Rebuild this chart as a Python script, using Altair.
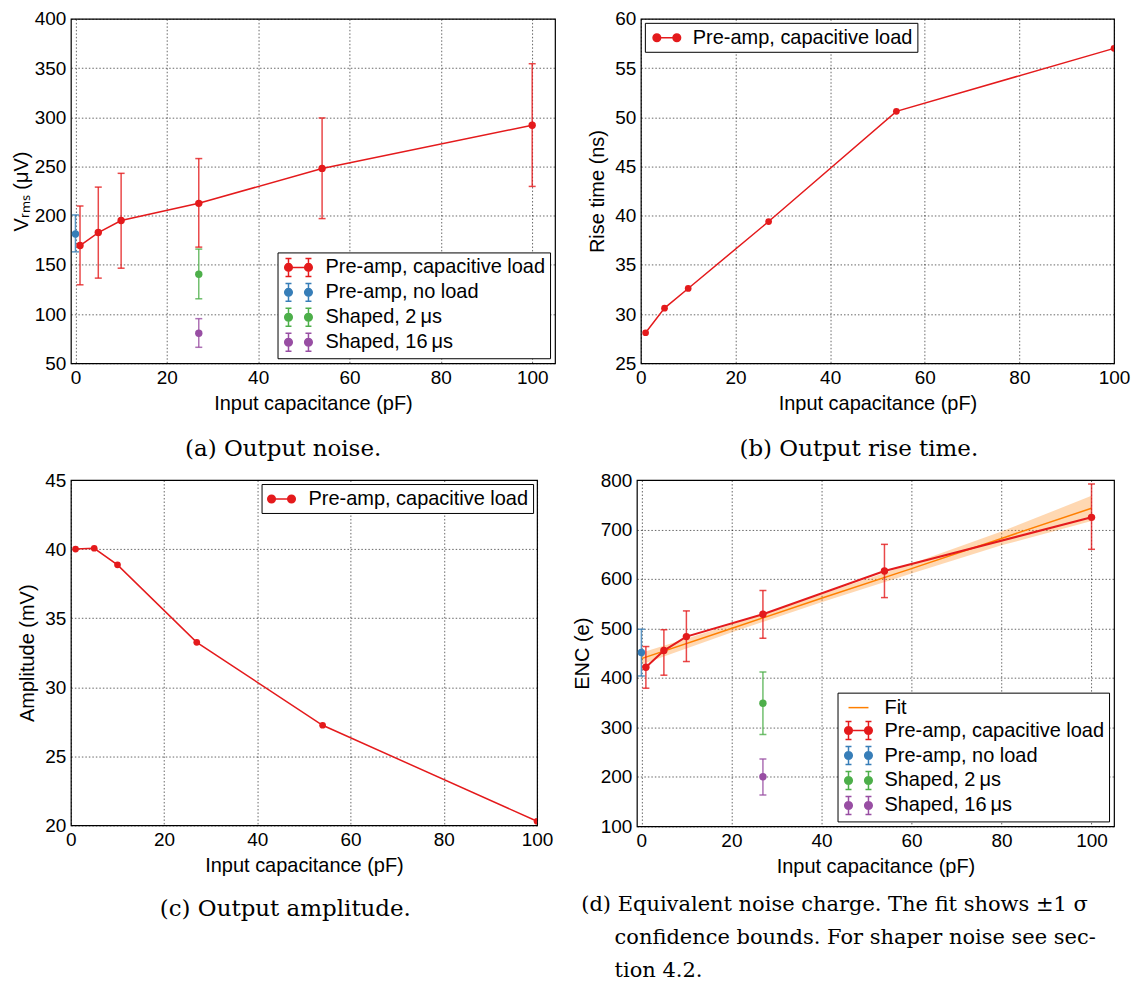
import altair as alt
import pandas as pd

FONT = "Liberation Sans"
SERIF = "DejaVu Serif"
RED, BLUE, GREEN, PURPLE, ORANGE = "#e41a1c", "#377eb8", "#4daf4a", "#984ea3", "#ff7f00"

S_FIT = "Fit"
S_CAP = "Pre-amp, capacitive load"
S_NOLOAD = "Pre-amp, no load"
S_2US = "Shaped, 2\u2009μs"
S_16US = "Shaped, 16\u2009μs"

# ---------------- data ----------------
cap_x = [1, 5, 10, 27, 54, 100]
noload_x = [0]
shaped_x = [27]

# (a) output noise (µV)
noise_cap = [169.6, 182.8, 195.0, 212.5, 248.0, 291.9]
noise_cap_lo = [129.7, 136.5, 146.6, 168.0, 197.0, 229.7]
noise_cap_hi = [209.8, 229.0, 243.0, 258.0, 299.3, 354.4]
noise_noload = [181.4]
noise_noload_lo = [163.2]
noise_noload_hi = [200.7]
noise_2us = [140.5]
noise_2us_lo = [115.5]
noise_2us_hi = [166.0]
noise_16us = [80.4]
noise_16us_lo = [66.2]
noise_16us_hi = [95.3]

# (b) rise time (ns)
rise_cap = [28.1, 30.6, 32.6, 39.4, 50.6, 57.0]

# (c) amplitude (mV)
amp_cap = [40.0, 40.06, 38.86, 33.25, 27.25, 20.3]

# (d) ENC (e)
enc_cap = [421.7, 455.4, 483.6, 528.7, 616.2, 724.6]
enc_cap_lo = [379.3, 405.6, 433.2, 480.3, 562.4, 660.0]
enc_cap_hi = [463.5, 497.5, 535.5, 576.5, 670.0, 792.0]
enc_noload = [451.3]
enc_noload_lo = [404.0]
enc_noload_hi = [498.5]
enc_2us = [349.0]
enc_2us_lo = [285.8]
enc_2us_hi = [412.0]
enc_16us = [200.3]
enc_16us_lo = [163.3]
enc_16us_hi = [236.0]
fit_x = [0, 20, 40, 60, 80, 100]
fit_y = [439, 500, 561, 621, 682, 743]
fit_lo = [427, 492, 553, 611, 668, 717]
fit_hi = [451, 508, 569, 631, 696, 768]

x_ticks = [0, 20, 40, 60, 80, 100]

# ---------------- legend symbols (unit-square paths) ----------------
def circle(cx, r=0.38):
    return f"M{cx + r},0A{r},{r},0,1,1,{cx - r},0A{r},{r},0,1,1,{cx + r},0Z"

EB = ("M-1,-0.9L-1,0.9M-1.3,-0.9L-0.7,-0.9M-1.3,0.9L-0.7,0.9"
      "M1,-0.9L1,0.9M0.7,-0.9L1.3,-0.9M0.7,0.9L1.3,0.9")
LINE = "M-1,0L1,0"
DOTS = circle(-1) + circle(1)
SYM_CAP_EB = LINE + EB + DOTS
SYM_EB = EB + DOTS
SYM_CAP = LINE + DOTS
SYM_FIT = LINE

INDEP = dict(color="independent", fill="independent", stroke="independent", shape="independent")


def err_df(xs, ys, los, his, name):
    return pd.DataFrame({"x": xs, "y": ys, "lo": los, "hi": his, "series": [name] * len(xs)})


def x_axis():
    return alt.Axis(title="Input capacitance (pF)", values=x_ticks, format="d")


def y_axis(title, values, tp=7):
    return alt.Axis(title=title, values=values, format="d", titlePadding=tp)


def legend(orient, offset, symbol_offset, label_offset, row_padding=1):
    return alt.Legend(title=None, orient=orient, offset=offset, labelFont=FONT,
                      labelFontSize=20, labelColor="black", symbolSize=400,
                      symbolStrokeWidth=1.5, symbolOffset=symbol_offset, symbolOpacity=1,
                      labelOffset=label_offset, padding=4, rowPadding=row_padding,
                      strokeColor="black", fillColor="white", cornerRadius=0,
                      labelLimit=500)


def legend_layer(df, dom, colors, paths, xe, ye, leg):
    fs = alt.Scale(domain=dom, range=colors)
    return alt.Chart(df).transform_filter("false").mark_point(
        filled=True, strokeWidth=1.5, opacity=1).encode(
        x=xe, y=ye,
        fill=alt.Fill("series:N", scale=fs, legend=leg),
        stroke=alt.Stroke("series:N", scale=fs, legend=leg),
        shape=alt.Shape("series:N", scale=alt.Scale(domain=dom, range=paths), legend=leg),
    )


def error_layers(df, dom, colors, xs, ys, xaxis, yaxis, leg):
    fs = alt.Scale(domain=dom, range=colors)
    fill = alt.Fill("series:N", scale=fs, legend=leg)
    stroke = alt.Stroke("series:N", scale=fs, legend=leg)
    xe = alt.X("x:Q", scale=xs, axis=xaxis)
    base = alt.Chart(df)
    rules = base.mark_rule(strokeWidth=1.5, opacity=0.8).encode(
        x=xe, y=alt.Y("lo:Q", scale=ys, axis=yaxis), y2="hi:Q", stroke=stroke)
    cap_lo = base.mark_tick(orient="horizontal", size=7, thickness=1.5, opacity=0.8).encode(
        x=xe, y=alt.Y("lo:Q", scale=ys, axis=yaxis), fill=fill)
    cap_hi = base.mark_tick(orient="horizontal", size=7, thickness=1.5, opacity=0.8).encode(
        x=xe, y=alt.Y("hi:Q", scale=ys, axis=yaxis), fill=fill)
    pts = base.mark_circle(size=55, opacity=1).encode(
        x=xe, y=alt.Y("y:Q", scale=ys, axis=yaxis), fill=fill)
    return [rules, cap_lo, cap_hi, pts]


def caption(text, offset, size=23, anchor="middle", dx=0):
    return alt.TitleParams(text=text, orient="bottom", frame="bounds", anchor=anchor,
                           font=SERIF, fontSize=size, fontWeight="normal", color="black",
                           offset=offset, dx=dx, lineHeight=33,
                           align="left" if anchor == "start" else "center")


# ---------------- panel (a) ----------------
a_df = pd.concat([
    err_df(cap_x, noise_cap, noise_cap_lo, noise_cap_hi, S_CAP),
    err_df(noload_x, noise_noload, noise_noload_lo, noise_noload_hi, S_NOLOAD),
    err_df(shaped_x, noise_2us, noise_2us_lo, noise_2us_hi, S_2US),
    err_df(shaped_x, noise_16us, noise_16us_lo, noise_16us_hi, S_16US),
], ignore_index=True)
a_dom = [S_CAP, S_NOLOAD, S_2US, S_16US]
a_col = [RED, BLUE, GREEN, PURPLE]
a_xs = alt.Scale(domain=[-1, 105], nice=False)
a_ys = alt.Scale(domain=[50, 400], nice=False)
a_xa = x_axis()
a_ya = y_axis("Vᵣₘₛ (μV)", list(range(50, 401, 50)), tp=3)
a_leg = legend("bottom-right", 5, 6, 16)
a_line = alt.Chart(a_df[a_df.series == S_CAP]).mark_line(color=RED, strokeWidth=1.5).encode(
    x=alt.X("x:Q", scale=a_xs, axis=a_xa), y=alt.Y("y:Q", scale=a_ys, axis=a_ya))
panel_a = alt.layer(
    a_line,
    *error_layers(a_df, a_dom, a_col, a_xs, a_ys, a_xa, a_ya, a_leg),
    legend_layer(a_df, a_dom, a_col, [SYM_CAP_EB, SYM_EB, SYM_EB, SYM_EB],
                 alt.X("x:Q", scale=a_xs, axis=a_xa), alt.Y("y:Q", scale=a_ys, axis=a_ya),
                 a_leg),
).properties(width=485, height=345, title=caption("(a) Output noise.", 25))

# ---------------- panel (b) ----------------
b_df = pd.DataFrame({"x": cap_x, "y": rise_cap, "series": [S_CAP] * len(cap_x)})
b_xs = alt.Scale(domain=[0, 100], nice=False)
b_ys = alt.Scale(domain=[25, 60], nice=False)
b_xa = x_axis()
b_ya = y_axis("Rise time (ns)", list(range(25, 61, 5)))
bx = alt.X("x:Q", scale=b_xs, axis=b_xa)
by = alt.Y("y:Q", scale=b_ys, axis=b_ya)
panel_b = alt.layer(
    alt.Chart(b_df).mark_line(color=RED, strokeWidth=1.5, clip=True).encode(x=bx, y=by),
    alt.Chart(b_df).mark_circle(color=RED, size=45, opacity=1, clip=True).encode(x=bx, y=by),
    legend_layer(b_df, [S_CAP], [RED], [SYM_CAP], bx, by, legend("top-left", 4, 7, 15)),
).properties(width=474, height=345, title=caption("(b) Output rise time.", 25))

# ---------------- panel (c) ----------------
c_df = pd.DataFrame({"x": cap_x, "y": amp_cap, "series": [S_CAP] * len(cap_x)})
c_xs = alt.Scale(domain=[0, 100], nice=False)
c_ys = alt.Scale(domain=[20, 45], nice=False)
c_xa = x_axis()
c_ya = y_axis("Amplitude (mV)", list(range(20, 46, 5)))
cx = alt.X("x:Q", scale=c_xs, axis=c_xa)
cy = alt.Y("y:Q", scale=c_ys, axis=c_ya)
panel_c = alt.layer(
    alt.Chart(c_df).mark_line(color=RED, strokeWidth=1.5, clip=True).encode(x=cx, y=cy),
    alt.Chart(c_df).mark_circle(color=RED, size=45, opacity=1, clip=True).encode(x=cx, y=cy),
    legend_layer(c_df, [S_CAP], [RED], [SYM_CAP], cx, cy, legend("top-right", 4, 5, 16)),
).properties(width=467, height=346, title=caption("(c) Output amplitude.", 23))

# ---------------- panel (d) ----------------
d_df = pd.concat([
    err_df(cap_x, enc_cap, enc_cap_lo, enc_cap_hi, S_CAP),
    err_df(noload_x, enc_noload, enc_noload_lo, enc_noload_hi, S_NOLOAD),
    err_df(shaped_x, enc_2us, enc_2us_lo, enc_2us_hi, S_2US),
    err_df(shaped_x, enc_16us, enc_16us_lo, enc_16us_hi, S_16US),
], ignore_index=True)
fit_df = pd.DataFrame({"x": fit_x, "y": fit_y, "lo": fit_lo, "hi": fit_hi})
d_dom = [S_FIT, S_CAP, S_NOLOAD, S_2US, S_16US]
d_col = [ORANGE, RED, BLUE, GREEN, PURPLE]
d_xs = alt.Scale(domain=[-1, 105], nice=False)
d_ys = alt.Scale(domain=[100, 800], nice=False)
d_xa = x_axis()
d_ya = y_axis("ENC (e)", list(range(100, 801, 100)), tp=8)
d_leg = legend("bottom-right", 5, 6, 15)
dx_ = alt.X("x:Q", scale=d_xs, axis=d_xa)
INDENT = "\u200b" + "\u00a0" * 5
panel_d = alt.layer(
    alt.Chart(fit_df).mark_area(color=ORANGE, opacity=0.3).encode(
        x=dx_, y=alt.Y("lo:Q", scale=d_ys, axis=d_ya), y2="hi:Q"),
    alt.Chart(fit_df).mark_line(color=ORANGE, strokeWidth=1.5).encode(
        x=dx_, y=alt.Y("y:Q", scale=d_ys, axis=d_ya)),
    alt.Chart(d_df[d_df.series == S_CAP]).mark_line(color=RED, strokeWidth=2).encode(
        x=dx_, y=alt.Y("y:Q", scale=d_ys, axis=d_ya)),
    *error_layers(d_df, d_dom, d_col, d_xs, d_ys, d_xa, d_ya, d_leg),
    legend_layer(d_df, d_dom, d_col, [SYM_FIT, SYM_CAP_EB, SYM_EB, SYM_EB, SYM_EB],
                 dx_, alt.Y("y:Q", scale=d_ys, axis=d_ya), d_leg),
).properties(width=478, height=347, title=caption(
    ["(d) Equivalent noise charge. The fit shows ±1 σ",
     INDENT + "confidence bounds. For shaper noise see sec-",
     INDENT + "tion 4.2."], 18, size=21, anchor="start", dx=9))

row1 = alt.hconcat(panel_a, panel_b, spacing=31).resolve_scale(**INDEP).resolve_legend(**INDEP)
row2 = alt.hconcat(panel_c, panel_d, spacing=17).resolve_scale(**INDEP).resolve_legend(**INDEP)

chart = alt.vconcat(row1, row2, spacing=8).properties(
    padding={"left": 2, "top": 0, "right": 0, "bottom": 0},
).resolve_scale(**INDEP).resolve_legend(**INDEP).configure_view(
    stroke="black", strokeWidth=1.2
).configure_axis(
    labelFont=FONT, titleFont=FONT, labelFontSize=19, titleFontSize=20,
    titleFontWeight="normal", labelColor="black", titleColor="black",
    ticks=False, tickSize=0, domain=False, labelPadding=5, titlePadding=6,
    grid=True, gridColor="black", gridDash=[1.5, 2], gridOpacity=0.75, gridWidth=0.8,
    labelFlush=False, labelOverlap=False,
).configure_legend(
    labelFont=FONT
)

chart.save("out.html", embed_options={"renderer": "svg", "actions": False})
